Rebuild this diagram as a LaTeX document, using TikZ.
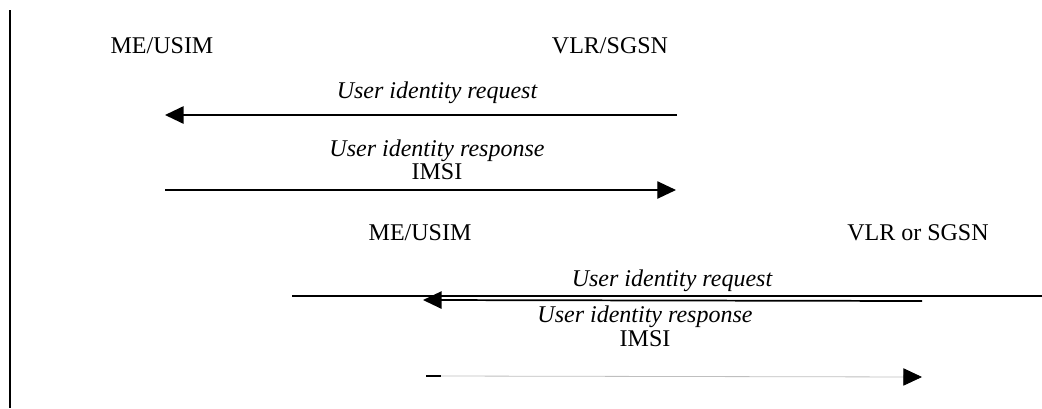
\documentclass[tikz,border=0pt]{standalone}
\usepackage{fontspec}
\setmainfont{Liberation Serif}
\usetikzlibrary{arrows.meta}
\begin{document}
\begin{tikzpicture}[x=0.75pt,y=-0.75pt,
    party/.style={font=\fontsize{18}{21}\selectfont},
    msg/.style={font=\fontsize{18}{21}\selectfont\itshape},
    tip/.style={-{Triangle[length=14pt,width=13pt,color=black]}}]
        \useasboundingbox (0,0) rectangle (1042,408);
        \coordinate (T) at (10,10);
        \coordinate (B) at (10,408);
        \draw[line width=1.6pt] (T) -- (B);
        % first exchange
        \node[party] (ms1) at (162,46) {ME/USIM};
        \node[party] (vlr1) at (610,46) {VLR/SGSN};
        \node[msg] (req1) at (437,93) {User identity request};
        \node[msg] (rsp1) at (437,151) {User identity response};
        \node[party] (imsi1) at (437,172) {IMSI};
        \coordinate (R1a) at (677,115);
        \coordinate (R1b) at (165,115);
        \coordinate (S1a) at (165,190);
        \coordinate (S1b) at (183,190);
        \coordinate (S1c) at (676,190);
        \draw[tip,line width=1.5pt] (R1a) -- (R1b);
        \draw[line width=1.6pt] (S1a) -- (S1b);
        \draw[tip,line width=0.9pt] (S1b) -- (S1c);
        % second exchange
        \node[party] (ms2) at (420,233) {ME/USIM};
        \node[party] (vlr2) at (918,233) {VLR or SGSN};
        \node[msg] (req2) at (672,281) {User identity request};
        \node[msg] (rsp2) at (645,317) {User identity response};
        \node[party] (imsi2) at (645,339) {IMSI};
        \coordinate (R2a) at (292,296);
        \coordinate (R2b) at (1042,296);
        \coordinate (R2c) at (922,301);
        \coordinate (R2d) at (423,300);
        \draw[line width=1.8pt] (R2a) -- (R2b);
        \draw[tip,line width=1.3pt] (R2c) -- (R2d);
        \coordinate (S2a) at (426,376);
        \coordinate (S2b) at (441,376);
        \coordinate (S2c) at (922,377);
        \draw[line width=1.6pt] (S2a) -- (S2b);
        \draw[tip,line width=0.6pt,draw=black!25] (S2b) -- (S2c);
\end{tikzpicture}
\end{document}
